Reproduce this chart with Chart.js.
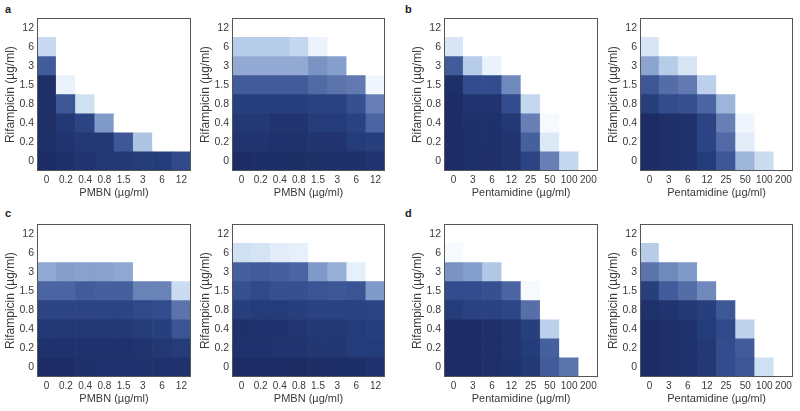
<!DOCTYPE html>
<html>
<head>
<meta charset="utf-8">
<script src="https://cdn.jsdelivr.net/npm/chart.js@4.4.1/dist/chart.umd.min.js"></script>
<style>
  body { margin: 0; background: #fff; }
  #wrap { position: relative; width: 800px; height: 411px; overflow: hidden; }
  #wrap canvas { position: absolute; }
  .tag { position: absolute; font: bold 11px "Liberation Sans", Arial, sans-serif; color: #222; }
</style>
</head>
<body>
<div id="wrap">
  <div class="tag" style="left:5px;top:3px">a</div>
  <div class="tag" style="left:405px;top:3px">b</div>
  <div class="tag" style="left:5px;top:207px">c</div>
  <div class="tag" style="left:405px;top:207px">d</div>
</div>
<script>
/* axis labels */
const rifLabels = ['0', '0.2', '0.4', '0.8', '1.5', '3', '6', '12'];
const pmbnLabels = ['0', '0.2', '0.4', '0.8', '1.5', '3', '6', '12'];
const pentLabels = ['0', '3', '6', '12', '25', '50', '100', '200'];

/* growth (0-100), rows written top (12) to bottom (0) */
const growthA1 = [
  [0, 0, 0, 0, 0, 0, 0, 0],
  [24, 0, 0, 0, 0, 0, 0, 0],
  [72, 0, 0, 0, 0, 0, 0, 0],
  [98, 8, 0, 0, 0, 0, 0, 0],
  [98, 75, 20, 0, 0, 0, 0, 0],
  [98, 92, 85, 50, 0, 0, 0, 0],
  [98, 95, 92, 92, 74, 34, 0, 0],
  [100, 97, 95, 93, 92, 90, 90, 82]
];
const growthA2 = [
  [0, 0, 0, 0, 0, 0, 0, 0],
  [30, 30, 30, 25, 7, 0, 0, 0],
  [44, 44, 44, 44, 52, 48, 0, 0],
  [72, 72, 72, 72, 66, 62, 60, 5],
  [88, 88, 88, 88, 86, 86, 78, 58],
  [92, 92, 95, 95, 90, 90, 86, 68],
  [95, 95, 96, 96, 95, 95, 90, 88],
  [100, 99, 99, 99, 98, 98, 97, 95]
];
const growthB1 = [
  [0, 0, 0, 0, 0, 0, 0, 0],
  [17, 0, 0, 0, 0, 0, 0, 0],
  [72, 30, 8, 0, 0, 0, 0, 0],
  [98, 80, 80, 55, 0, 0, 0, 0],
  [100, 95, 95, 80, 25, 0, 0, 0],
  [100, 97, 97, 92, 58, 3, 0, 0],
  [100, 98, 97, 95, 70, 15, 0, 0],
  [100, 98, 98, 95, 85, 58, 25, 0]
];
const growthB2 = [
  [0, 0, 0, 0, 0, 0, 0, 0],
  [17, 0, 0, 0, 0, 0, 0, 0],
  [46, 30, 17, 0, 0, 0, 0, 0],
  [75, 65, 60, 28, 0, 0, 0, 0],
  [88, 80, 78, 68, 40, 0, 0, 0],
  [100, 98, 96, 85, 58, 5, 0, 0],
  [100, 98, 96, 85, 66, 12, 0, 0],
  [100, 98, 96, 90, 75, 40, 22, 0]
];
const growthC1 = [
  [0, 0, 0, 0, 0, 0, 0, 0],
  [0, 0, 0, 0, 0, 0, 0, 0],
  [44, 48, 47, 47, 45, 0, 0, 0],
  [68, 68, 72, 70, 70, 57, 57, 22],
  [85, 85, 85, 85, 85, 82, 80, 62],
  [92, 92, 92, 92, 92, 90, 88, 76],
  [96, 96, 96, 96, 96, 95, 93, 90],
  [100, 100, 98, 96, 96, 96, 96, 96]
];
const growthC2 = [
  [0, 0, 0, 0, 0, 0, 0, 0],
  [20, 18, 12, 10, 0, 0, 0, 0],
  [70, 72, 70, 68, 50, 42, 10, 0],
  [78, 82, 78, 78, 76, 74, 76, 50],
  [88, 90, 90, 88, 86, 86, 86, 85],
  [97, 96, 96, 94, 92, 92, 90, 88],
  [96, 96, 95, 95, 94, 94, 90, 90],
  [100, 100, 100, 100, 99, 99, 99, 96]
];
const growthD1 = [
  [0, 0, 0, 0, 0, 0, 0, 0],
  [3, 0, 0, 0, 0, 0, 0, 0],
  [52, 48, 32, 0, 0, 0, 0, 0],
  [80, 80, 78, 68, 3, 0, 0, 0],
  [90, 86, 86, 84, 64, 0, 0, 0],
  [100, 100, 98, 95, 88, 28, 0, 0],
  [100, 100, 98, 95, 90, 70, 0, 0],
  [100, 100, 98, 96, 92, 72, 62, 0]
];
const growthD2 = [
  [0, 0, 0, 0, 0, 0, 0, 0],
  [30, 0, 0, 0, 0, 0, 0, 0],
  [62, 55, 50, 0, 0, 0, 0, 0],
  [88, 72, 65, 55, 0, 0, 0, 0],
  [96, 95, 92, 88, 74, 0, 0, 0],
  [100, 98, 96, 90, 82, 27, 0, 0],
  [100, 98, 96, 92, 80, 72, 0, 0],
  [100, 98, 96, 92, 80, 75, 20, 0]
];

// white -> light blue -> navy
const stops = [
  [0, [255, 255, 255]],
  [5, [240, 246, 253]],
  [15, [220, 233, 247]],
  [25, [195, 215, 239]],
  [40, [158, 181, 218]],
  [50, [127, 153, 200]],
  [60, [97, 121, 176]],
  [70, [70, 96, 158]],
  [80, [50, 76, 141]],
  [90, [37, 60, 122]],
  [100, [29, 44, 100]]
];
function colorFor(v) {
  for (let i = 1; i < stops.length; i++) {
    if (v <= stops[i][0]) {
      const [a, ca] = stops[i - 1];
      const [b, cb] = stops[i];
      const t = (v - a) / (b - a);
      const c = ca.map((x, k) => Math.round(x + (cb[k] - x) * t));
      return `rgb(${c[0]},${c[1]},${c[2]})`;
    }
  }
  return 'rgb(29,44,100)';
}

const FONT = '"Liberation Sans", Arial, sans-serif';
Chart.defaults.font.family = FONT;
Chart.defaults.color = '#3a3a3a';

const frame = {
  id: 'frame',
  afterDraw(chart) {
    const a = chart.chartArea;
    const c = chart.ctx;
    c.save();
    c.strokeStyle = '#555';
    c.lineWidth = 1;
    c.strokeRect(Math.round(a.left) + 0.5, Math.round(a.top) + 0.5,
      Math.round(a.right - a.left) - 1, Math.round(a.bottom - a.top) - 1);
    c.restore();
  }
};

// L,T,R,B = plot area inside the page
function panel(L, T, R, B, xLabels, xTitle, growth) {
  const left = L - 37, top = T - 8;
  const w = R + 8 - left, h = B + 31 - top;
  const cv = document.createElement('canvas');
  cv.width = w; cv.height = h;
  cv.style.left = left + 'px';
  cv.style.top = top + 'px';
  document.getElementById('wrap').appendChild(cv);

  const rows = growth.slice().reverse(); // bottom row first
  const datasets = rows.map((row, r) => ({
    data: xLabels.map(() => [r - 0.5, r + 0.5]),
    backgroundColor: row.map(colorFor),
    borderWidth: 0,
    borderSkipped: false,
    barPercentage: 1,
    categoryPercentage: 1
  }));

  new Chart(cv, {
    type: 'bar',
    data: { labels: xLabels, datasets },
    options: {
      responsive: false,
      animation: false,
      layout: { padding: { top: 8, right: 8, left: 0, bottom: 0 } },
      plugins: { legend: { display: false }, tooltip: { enabled: false } },
      scales: {
        x: {
          stacked: true,
          grid: { display: false, drawTicks: false },
          border: { display: false },
          ticks: { padding: 3, font: { size: 10 }, maxRotation: 0, autoSkip: false },
          title: { display: true, text: xTitle, font: { size: 11 }, padding: { top: 0, bottom: 2 } },
          afterFit: s => { s.height = 31; }
        },
        y: {
          stacked: false,
          min: -0.5,
          max: 7.5,
          grid: { display: false, drawTicks: false },
          border: { display: false },
          afterBuildTicks: s => { s.ticks = rifLabels.map((_, i) => ({ value: i })); },
          ticks: { padding: 3, font: { size: 10.5 }, callback: v => rifLabels[v] },
          title: { display: true, text: 'Rifampicin (µg/ml)', font: { size: 12 }, padding: { top: 3, bottom: 0 } },
          afterFit: s => { s.width = 37; }
        }
      }
    },
    plugins: [frame]
  });
}

panel(37, 17, 191, 171, pmbnLabels, 'PMBN (µg/ml)', growthA1);
panel(232, 17, 385, 171, pmbnLabels, 'PMBN (µg/ml)', growthA2);
panel(444, 17, 598, 171, pentLabels, 'Pentamidine (µg/ml)', growthB1);
panel(640, 17, 793, 171, pentLabels, 'Pentamidine (µg/ml)', growthB2);
panel(37, 223, 191, 377, pmbnLabels, 'PMBN (µg/ml)', growthC1);
panel(232, 223, 385, 377, pmbnLabels, 'PMBN (µg/ml)', growthC2);
panel(444, 223, 598, 377, pentLabels, 'Pentamidine (µg/ml)', growthD1);
panel(640, 223, 793, 377, pentLabels, 'Pentamidine (µg/ml)', growthD2);
</script>
</body>
</html>
